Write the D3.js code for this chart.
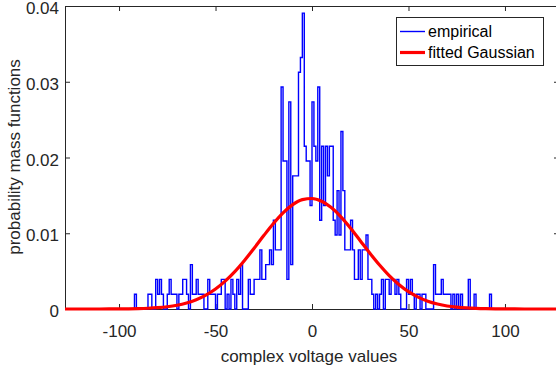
<!DOCTYPE html>
<html><head><meta charset="utf-8">
<script src="https://cdn.jsdelivr.net/npm/d3@7"></script>
<style>
body{margin:0;background:#fff}
svg{display:block}
text{font-family:"Liberation Sans",Arial,Helvetica,sans-serif}
</style>
</head><body><svg id="c" width="556" height="369"></svg>
<script>
// empirical pmf: stairs, value holds from binEdges[i] to binEdges[i+1]
const binEdges = [
-93,-92,-91,-90,-89,-88,-87,-86,-85,-84,
-83,-82,-81,-80,-79,-78,-77,-76,-75,-74,
-73,-72,-71,-70,-69,-68,-67,-66,-65,-64,
-63,-62,-61,-60,-59,-58,-57,-56,-55,-54,
-53,-52,-51,-50,-49,-48,-47,-46,-45,-44,
-43,-42,-41,-40,-39,-38,-37,-36,-35,-34,
-33,-32,-31,-30,-29,-28,-27,-26,-25,-24,
-23,-22,-21,-20,-19,-18,-17,-16,-15,-14,
-13,-12,-11,-10,-9,-8,-7,-6,-5,-4,
-3,-2,-1,0,1,2,3,4,5,6,
7,8,9,10,11,12,13,14,15,16,
17,18,19,20,21,22,23,24,25,26,
27,28,29,30,31,32,33,34,35,36,
37,38,39,40,41,42,43,44,45,46,
47,48,49,50,51,52,53,54,55,56,
57,58,59,60,61,62,63,64,65,66,
67,68,69,70,71,72,73,74,75,76,
77,78,79,80,81,82,83,84,85,86,
87,88,89,90,91,92,93,94];
const empiricalPmf = [
0,0.00195,0,0,0,0,0,0,0.00195,0.00195,
0,0,0.00391,0.00195,0.00391,0.00195,0,0,0.00195,0.00391,
0.00195,0.00195,0.00195,0,0.00195,0.00195,0.00391,0.00391,0.00195,0,
0.00586,0.00195,0.00195,0.00391,0.00195,0.00195,0.00195,0,0,0.00391,
0.00195,0.00195,0.00195,0,0.00195,0.00195,0.00391,0.00391,0,0.00195,
0,0.00391,0.00195,0,0.00391,0.00195,0.00586,0,0,0,
0.00391,0.00195,0.00195,0.00391,0.00391,0.00391,0.00781,0.00391,0.00391,0.00586,
0.00586,0.00781,0.00586,0.01172,0.00781,0.00781,0.00781,0.0293,0.01953,0.01953,
0.00391,0.02734,0.00586,0.01758,0.01758,0.01758,0.03125,0.0332,0.03906,0.02148,
0.01953,0.01953,0.01367,0.02734,0.02148,0.01953,0.0293,0.01172,0.02148,0.01367,
0.02148,0.01758,0.02148,0.02148,0.01172,0.00977,0.01563,0.00977,0.02344,0.01563,
0.00781,0.00781,0.00781,0.01172,0.00781,0.00391,0.00391,0.00781,0.00391,0.00781,
0.00781,0.00977,0.00391,0.00391,0.00195,0,0.00195,0,0.00195,0.00391,
0,0.00391,0.00391,0.00195,0.00391,0.00391,0.00195,0.00391,0.00195,0,
0,0,0.00391,0.00195,0.00391,0.00195,0,0.00195,0.00195,0,
0.00195,0.00195,0,0,0,0,0.00586,0.00195,0.00195,0.00195,
0.00391,0.00195,0.00195,0.00195,0.00195,0,0.00195,0,0.00195,0,
0.00195,0,0,0,0.00391,0,0,0.00195,0,0,
0,0,0,0,0,0.00195,0,0];

// fitted Gaussian, sampled
const gaussX = [-128,-125,-120,-115,-110,-105,-100,-95,-90,-85,-80,-75,-70,-65,-60,-55,-50,-45,-40,-35,-30,-25,-20,-15,-10,-5,0,5,10,15,20,25,30,35,40,45,50,55,60,65,70,75,80,85,90,95,100,105,110,115,120,125,128];
const gaussY = [0,0,0,0.000001,0.000003,0.000007,0.000014,0.000027,0.000052,0.000096,0.000172,0.000296,0.00049,0.00079,0.001225,0.00183,0.00264,0.00368,0.00494,0.00641,0.00802,0.00969,0.01129,0.0127,0.01378,0.01444,0.01459,0.01423,0.01339,0.01217,0.01067,0.00902,0.00736,0.0058,0.00441,0.00324,0.00229,0.00157,0.00103,0.00066,0.0004,0.00024,0.000137,0.000075,0.00004,0.000021,0.00001,0.000005,0.000002,0.000001,0,0,0];

const xDomain = [-128, 128];
const yDomain = [0, 0.04];
const xTicks = [-100, -50, 0, 50, 100];
const xTickLabels = ["-100", "-50", "0", "50", "100"];
const yTicks = [0, 0.01, 0.02, 0.03, 0.04];
const yTickLabels = ["0", "0.01", "0.02", "0.03", "0.04"];
const legendLabels = ["empirical", "fitted Gaussian"];
const seriesColors = ["#0000ff", "#ff0000"];
const xLabel = "complex voltage values";
const yLabel = "probability mass functions";

const svg = d3.select("#c");
const L = 65, R = 559, T = 6, B = 309;
const x = d3.scaleLinear().domain(xDomain).range([L, R]);
const y = d3.scaleLinear().domain(yDomain).range([B, T]);
const axisColor = "#262626";

svg.append("defs").append("clipPath").attr("id", "clip")
  .append("rect").attr("x", L).attr("y", T - 2).attr("width", R - L).attr("height", B - T + 4);

function styleAxis(g) {
  g.selectAll("path.domain").attr("stroke", axisColor);
  g.selectAll(".tick line").attr("stroke", axisColor);
  g.selectAll(".tick text").attr("fill", axisColor).style("font-size", "17px")
    .style("font-family", '"Liberation Sans",Arial,Helvetica,sans-serif');
}

// axes (box)
svg.append("g").attr("transform", `translate(0,${B})`)
  .call(d3.axisBottom(x).tickValues(xTicks).tickFormat((d, i) => xTickLabels[i])
    .tickSizeInner(-5).tickSizeOuter(0).tickPadding(16))
  .call(styleAxis);
svg.append("g").attr("transform", `translate(0,${T})`)
  .call(d3.axisTop(x).tickValues(xTicks).tickFormat("")
    .tickSizeInner(-5).tickSizeOuter(0))
  .call(styleAxis);
svg.append("g").attr("transform", `translate(${L},0)`)
  .call(d3.axisLeft(y).tickValues(yTicks).tickFormat((d, i) => yTickLabels[i])
    .tickSizeInner(-5).tickSizeOuter(0).tickPadding(6))
  .call(styleAxis)
  .call(g => g.selectAll(".tick text").attr("dy", "0.45em"));
svg.append("g").attr("transform", `translate(${R},0)`)
  .call(d3.axisRight(y).tickValues(yTicks).tickFormat("")
    .tickSizeInner(-5).tickSizeOuter(0))
  .call(styleAxis);

const plot = svg.append("g").attr("clip-path", "url(#clip)");

// empirical stairs
const stairs = binEdges.map((e, i) => [e, empiricalPmf[i]]);
plot.append("path")
  .attr("d", d3.line().x(d => x(d[0])).y(d => y(d[1])).curve(d3.curveStepAfter)(stairs))
  .attr("fill", "none").attr("stroke", seriesColors[0]).attr("stroke-width", 1.4);

// gaussian
const gpts = gaussX.map((g, i) => [g, gaussY[i]]);
plot.append("path")
  .attr("d", d3.line().x(d => x(d[0])).y(d => y(d[1])).curve(d3.curveMonotoneX)(gpts))
  .attr("fill", "none").attr("stroke", seriesColors[1]).attr("stroke-width", 3.2)
  .attr("stroke-linejoin", "round");

// axis labels
svg.append("text").attr("x", 309).attr("y", 362).attr("text-anchor", "middle")
  .attr("fill", axisColor).style("font-size", "17px").text(xLabel);
svg.append("text").attr("transform", "translate(20,157) rotate(-90)").attr("text-anchor", "middle")
  .attr("fill", axisColor).style("font-size", "17px").text(yLabel);

// legend
const lg = svg.append("g");
lg.append("rect").attr("x", 396.5).attr("y", 17.5).attr("width", 147).attr("height", 48)
  .attr("fill", "#fff").attr("stroke", axisColor).attr("stroke-width", 1);
const rowsY = [31.5, 52.5];
legendLabels.forEach((lab, i) => {
  lg.append("line").attr("x1", 400).attr("x2", 425).attr("y1", rowsY[i]).attr("y2", rowsY[i])
    .attr("stroke", seriesColors[i]).attr("stroke-width", i === 0 ? 1.4 : 3.2);
  lg.append("text").attr("x", 428).attr("y", rowsY[i]).attr("dy", "0.35em")
    .attr("fill", "#000").style("font-size", "16px").text(lab);
});
</script>
</body></html>
